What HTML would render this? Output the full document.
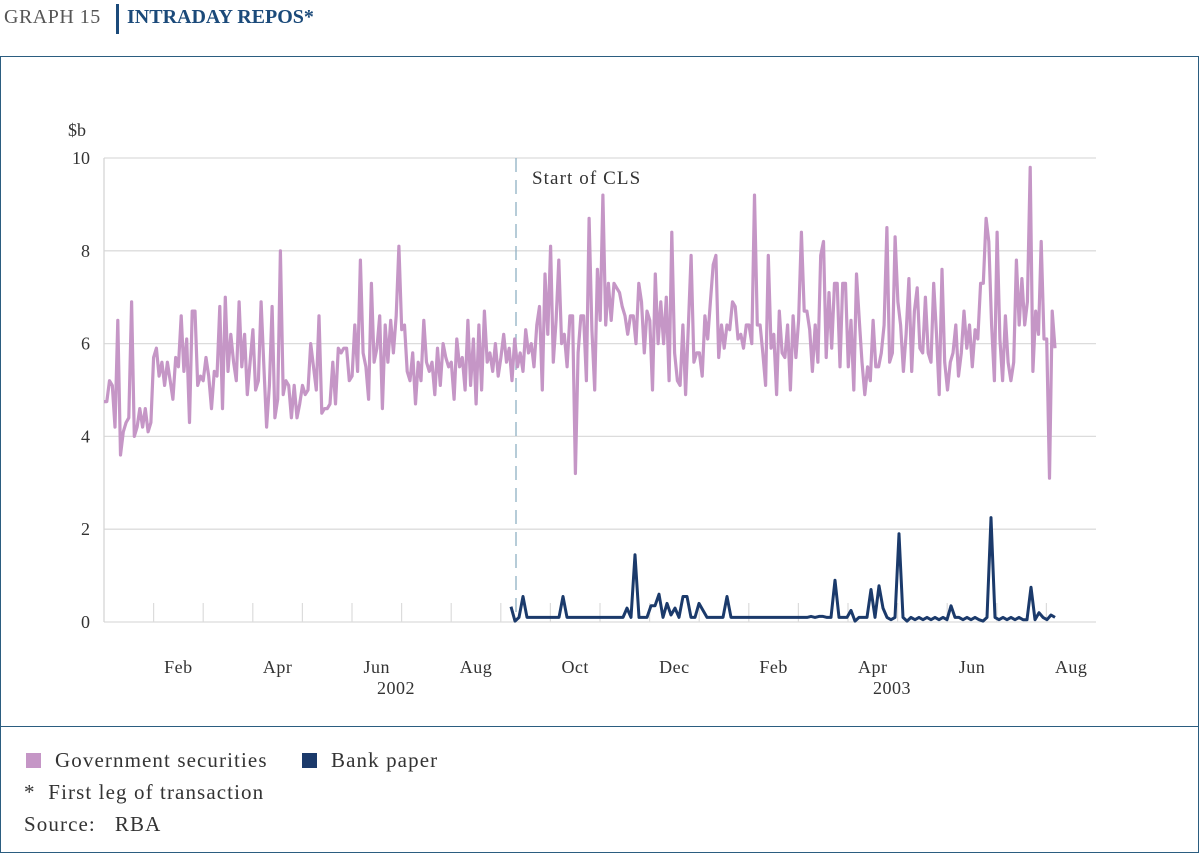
<!DOCTYPE html>
<html><head><meta charset="utf-8"><style>
body{margin:0;width:1200px;height:854px;background:#fff;font-family:"Liberation Serif",serif;overflow:hidden;position:relative}
.t{position:absolute;white-space:nowrap}
.lg{letter-spacing:1.1px}
</style></head><body>
<div class="t" style="left:4px;top:6px;font-size:20px;color:#555;letter-spacing:0.5px">GRAPH 15</div>
<div style="position:absolute;left:116px;top:4px;width:3px;height:30px;background:#1b4a7a"></div>
<div class="t" style="left:127px;top:6px;font-size:20px;font-weight:bold;color:#1b4a7a">INTRADAY REPOS*</div>
<div style="position:absolute;left:0;top:56px;width:1197px;height:795px;border:1px solid #2b5d80"></div>
<div style="position:absolute;left:0;top:726px;width:1199px;height:1px;background:#2b5d80"></div>
<svg id="chart" width="1200" height="854" style="position:absolute;left:0;top:0"></svg>
<div style="position:absolute;left:26px;top:753px;width:15px;height:15px;background:#c596c6"></div>
<div class="t lg" style="left:55px;top:748px;font-size:21px;color:#333">Government securities</div>
<div style="position:absolute;left:302px;top:753px;width:15px;height:15px;background:#1b3a6b"></div>
<div class="t lg" style="left:331px;top:748px;font-size:21px;color:#333">Bank paper</div>
<div class="t lg" style="left:24px;top:780px;font-size:21px;color:#333">*&nbsp; First leg of transaction</div>
<div class="t lg" style="left:24px;top:812px;font-size:21px;color:#333">Source:&nbsp;&nbsp; RBA</div>
<script>
const yTicks=[0,2,4,6,8,10];
const monthLabels=["Feb","Apr","Jun","Aug","Oct","Dec","Feb","Apr","Jun","Aug"];
const yearLabels=["2002","2003"];
const govValues=[4.75,4.75,5.2,5.1,4.2,6.5,3.6,4.1,4.3,4.4,6.9,4.0,4.2,4.6,4.2,4.6,4.1,4.3,5.7,5.9,5.3,5.6,5.1,5.6,5.2,4.8,5.7,5.5,6.6,5.4,6.1,4.3,6.7,6.7,5.1,5.3,5.2,5.7,5.3,4.6,5.4,5.3,6.8,4.6,7.0,5.4,6.2,5.6,5.2,6.9,5.5,6.2,4.9,5.6,6.3,5.0,5.2,6.9,5.5,4.2,5.1,6.8,4.4,4.8,8.0,4.9,5.2,5.1,4.4,5.1,4.4,4.7,5.1,4.9,5.0,6.0,5.5,5.0,6.6,4.5,4.6,4.6,4.7,5.6,4.7,5.9,5.8,5.9,5.9,5.2,5.3,6.4,5.4,7.8,5.8,5.5,4.8,7.3,5.6,5.9,6.6,4.6,6.4,5.6,6.5,5.8,6.6,8.1,6.3,6.4,5.4,5.2,5.8,4.7,5.6,5.2,6.5,5.6,5.4,5.6,4.9,5.9,5.1,6.0,5.7,5.5,5.6,4.8,6.1,5.5,5.7,5.0,6.5,5.1,6.1,4.7,6.4,5.0,6.7,5.6,5.8,5.4,6.0,5.3,5.7,6.2,5.6,5.9,5.2,6.1,5.5,5.8,5.4,6.3,
5.8,6.0,5.5,6.4,6.8,5.0,7.5,6.2,8.1,5.6,6.5,7.8,6.0,6.2,5.5,6.6,6.6,3.2,5.8,6.6,6.6,5.2,8.7,6.3,5.0,7.6,6.5,9.2,6.4,7.3,6.5,7.3,7.2,7.1,6.8,6.6,6.2,6.6,6.6,6.0,
7.3,6.9,5.8,6.7,6.5,5.0,7.5,6.0,6.9,6.0,7.0,5.2,8.4,5.8,5.2,5.1,6.4,4.9,6.4,7.9,5.6,5.8,5.8,5.3,6.6,6.1,6.9,7.7,7.9,5.7,6.4,5.9,6.4,6.3,6.9,6.8,6.1,6.2,5.9,6.4,6.4,6.0,9.2,6.4,6.4,5.8,5.1,7.9,5.9,6.2,4.9,6.7,5.8,5.7,6.4,5.0,6.6,5.7,6.5,8.4,6.7,6.7,6.3,5.4,6.4,5.6,7.9,8.2,5.7,7.1,5.9,7.3,7.3,5.5,
7.3,7.3,5.5,6.5,5.0,7.5,6.5,5.6,4.9,5.5,5.2,6.5,5.5,5.5,5.8,6.4,8.5,5.6,5.8,8.3,6.9,6.4,5.4,6.2,7.4,5.4,6.7,7.2,5.9,5.8,7.0,5.8,5.6,7.3,6.2,4.9,7.6,5.6,5.0,5.6,5.8,6.4,5.3,5.8,6.7,5.9,6.4,5.5,6.3,6.1,7.3,7.3,8.7,8.2,6.4,5.2,8.4,6.1,5.2,6.6,5.6,5.2,5.6,7.8,6.4,7.4,6.4,6.9,9.8,5.4,6.7,6.2,8.2,6.1,6.1,3.1,6.7,5.9];
const bankValues=[0.33,0.02,0.1,0.55,0.1,0.1,0.1,0.1,0.1,0.1,0.1,0.1,0.1,0.55,0.1,0.1,0.1,0.1,0.1,0.1,0.1,0.1,0.1,0.1,0.1,0.1,0.1,0.1,0.1,0.3,0.1,1.45,0.1,0.1,0.1,0.35,0.35,0.6,0.1,0.4,0.15,0.3,0.1,0.55,0.55,0.1,0.1,0.4,0.25,0.1,0.1,0.1,0.1,0.1,0.55,0.1,0.1,0.1,0.1,0.1,0.1,0.1,0.1,0.1,0.1,0.1,0.1,0.1,0.1,0.1,0.1,0.1,0.1,0.1,0.1,0.12,0.1,0.12,0.12,0.1,0.1,0.9,0.1,0.1,0.1,0.25,0.02,0.1,0.1,0.1,0.7,0.1,0.78,0.3,0.1,0.05,0.1,1.9,0.1,0.02,0.1,0.05,0.1,0.05,0.1,0.05,0.1,0.05,0.1,0.05,0.35,0.1,0.1,0.05,0.1,0.05,0.1,0.05,0.02,0.1,2.25,0.1,0.05,0.1,0.05,0.1,0.05,0.1,0.05,0.05,0.75,0.05,0.2,0.1,0.05,0.15,0.1];
const NS='http://www.w3.org/2000/svg';
const svg=document.getElementById('chart');
const X0=104,X1=1096,Y0=622,Y10=158;
const yScale=v=>Y0-(v/10)*(Y0-Y10);
const govX=i=>104+i*(1055-104)/(govValues.length-1);
const bankX=i=>511+i*(1055-511)/(bankValues.length-1);
function mk(tag,attrs){const e=document.createElementNS(NS,tag);for(const k in attrs)e.setAttribute(k,attrs[k]);svg.appendChild(e);return e;}
yTicks.forEach(v=>{
 const g=mk('line',{x1:X0,x2:X1,y1:yScale(v),y2:yScale(v),stroke:'#dcdcdc','stroke-width':1.3});
 
 
 const t=mk('text',{x:90,y:yScale(v)+6,'text-anchor':'end','font-size':18,fill:'#333','font-family':'Liberation Serif, serif'});
 t.textContent=v;
 
 
});
const yt=mk('text',{x:68,y:136,'font-size':18,fill:'#333','font-family':'Liberation Serif, serif'});yt.textContent='$b';


const ax=mk('line',{x1:X0,x2:X0,y1:Y10,y2:Y0,stroke:'#d5d5d5','stroke-width':1.3});


for(let m=1;m<20;m++){
 const x=X0+m*49.6;
 const tk=mk('line',{x1:x,x2:x,y1:603,y2:Y0,stroke:'#dcdcdc','stroke-width':1.2});
 
 
}
monthLabels.forEach((m,i)=>{
 const x=X0+(2*i+1.5)*49.6;
 const t=mk('text',{x:x,y:673,'text-anchor':'middle','font-size':18,fill:'#333','font-family':'Liberation Serif, serif','letter-spacing':'0.5'});t.textContent=m;
 
 
});
yearLabels.forEach((y,i)=>{
 const t=mk('text',{x:i?892:396,y:694,'text-anchor':'middle','font-size':18,fill:'#333','font-family':'Liberation Serif, serif','letter-spacing':'0.5'});t.textContent=y;
 
 
});
const cls=mk('line',{x1:516,x2:516,y1:158,y2:622,stroke:'#8fb0c4','stroke-width':1.3,'stroke-dasharray':'14,8'});


const clsT=mk('text',{x:532,y:184,'font-size':19,fill:'#333','font-family':'Liberation Serif, serif','letter-spacing':'1.1'});clsT.textContent='Start of CLS';


const gp=mk('polyline',{points:govValues.map((v,i)=>govX(i).toFixed(1)+','+yScale(v).toFixed(1)).join(' '),fill:'none',stroke:'#c596c6','stroke-width':3.2,'stroke-linejoin':'round'});


const bp=mk('polyline',{points:bankValues.map((v,i)=>bankX(i).toFixed(1)+','+yScale(v).toFixed(1)).join(' '),fill:'none',stroke:'#1b3a6b','stroke-width':3,'stroke-linejoin':'round'});


</script>
</body></html>
